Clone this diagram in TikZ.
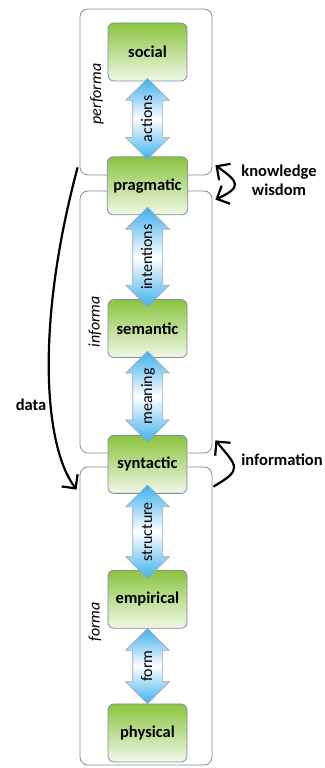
\documentclass[tikz,border=0pt]{standalone}
\usepackage{fontspec}
\setmainfont{Carlito}
\usetikzlibrary{shapes,arrows.meta,positioning}
\definecolor{boxgreen}{RGB}{138,196,62}
\definecolor{linkblue}{RGB}{62,176,236}
\definecolor{framegray}{RGB}{128,140,166}
\tikzstyle{block} = [rectangle, draw=framegray, line width=0.8pt, top color=boxgreen, bottom color=boxgreen!12!white, rounded corners=6pt, minimum width=79pt, minimum height=58pt, inner xsep=6pt, font=\fontsize{16.5}{19}\selectfont\bfseries]
\tikzstyle{link} = [double arrow, rotate=90, draw=framegray!80, line width=0.6pt, top color=linkblue, bottom color=linkblue, middle color=white, double arrow head extend=7pt, double arrow head indent=0pt, inner xsep=2pt, inner ysep=7pt, text height=12pt, text depth=3pt, font=\fontsize{16}{19}\selectfont]
\tikzstyle{zone} = [rectangle, draw=framegray, line width=0.8pt, rounded corners=8pt, minimum width=132pt]
\tikzstyle{zonelabel} = [rotate=90, font=\fontsize{16}{19}\selectfont\itshape]
\tikzstyle{line} = [draw, line width=2.2pt, -{Straight Barb[length=10pt,width=20pt]}]
\tikzstyle{twoway} = [line, {Straight Barb[length=10pt,width=20pt]}-{Straight Barb[length=10pt,width=20pt]}]
\tikzstyle{note} = [font=\fontsize{16.5}{19}\selectfont\bfseries, align=center]

\begin{document}
\begin{tikzpicture}[x=1pt, y=1pt, node distance = 75pt]
    \useasboundingbox (0,0) rectangle (324,768);
    % Place zones
    \node [zone, minimum height=166pt] (performa) at (146,676) {};
    \node [zone, minimum height=262pt] (informa) at (146,446) {};
    \node [zone, minimum height=298pt] (forma) at (146,152) {};
    \node [zonelabel] (performalbl) at (97,674) {performa};
    \node [zonelabel] (informalbl) at (95,446) {informa};
    \node [zonelabel] (formalbl) at (95,146) {forma};

    % Place nodes
    \node [block] (social) at (147.5,716) {social};
    \node [block, below=75pt of social] (pragmatic) {pragmatic};
    \node [block, below=84pt of pragmatic] (semantic) {semantic};
    \node [block, below=77pt of semantic] (syntactic) {syntactic};
    \node [block, below=76pt of syntactic] (empirical) {empirical};
    \node [block, below=75pt of empirical] (physical) {physical};

    % Draw links
    \path (social) -- node [link, minimum height=75pt] (actions) {actions} (pragmatic);
    \path (pragmatic) -- node [link, minimum height=84pt] (intentions) {intentions} (semantic);
    \path (semantic) -- node [link, minimum height=77pt] (meaning) {meaning} (syntactic);
    \path (syntactic) -- node [link, minimum height=76pt] (structure) {structure} (empirical);
    \path (empirical) -- node [link, minimum height=75pt] (form) {form} (physical);

    % Draw edges
    \coordinate (dataA) at ([xshift=-2pt,yshift=8pt]performa.south west);
    \coordinate (dataB) at ([xshift=-3pt,yshift=-23pt]forma.north west);
    \coordinate (knowA) at ([xshift=3pt,yshift=10pt]performa.south east);
    \coordinate (knowB) at ([xshift=3pt,yshift=-9pt]informa.north east);
    \coordinate (infoA) at ([xshift=1pt,yshift=-20pt]forma.north east);
    \coordinate (infoB) at ([xshift=3pt,yshift=13pt]informa.south east);

    \path [line] (dataA) .. controls +(-43,-161) and +(-32,42) .. node [note, pos=0.6, left] (data) {data} (dataB);
    \path [twoway] (knowA) to [out=-35, in=25, looseness=2.2] (knowB);
    \path [line] (infoA) to [out=30, in=-50, looseness=1.9] (infoB);

    \node [note] (knowledge) at (279,587.5) {knowledge\\wisdom};
    \node [note] (information) at (282,308) {information};
\end{tikzpicture}
\end{document}
